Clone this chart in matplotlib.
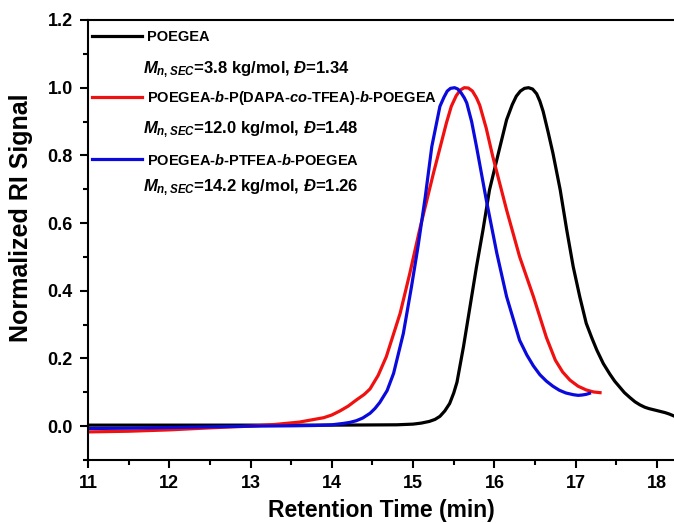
import numpy as np
import matplotlib
matplotlib.use("Agg")
import matplotlib.pyplot as plt
from matplotlib.ticker import MultipleLocator

plt.rcParams['font.family'] = ['Liberation Sans', 'DejaVu Sans']
plt.rcParams['font.weight'] = 'bold'
plt.rcParams['mathtext.fontset'] = 'custom'
plt.rcParams['mathtext.it'] = 'Liberation Sans:italic:bold'
plt.rcParams['mathtext.rm'] = 'Liberation Sans:bold'
plt.rcParams['mathtext.bf'] = 'Liberation Sans:bold'

# SEC traces (retention time in min, normalized RI)
t_poegea = [11.0, 12.0, 13.0, 14.0, 14.8, 15.0, 15.1, 15.2, 15.27, 15.33, 15.39, 15.45, 15.50, 15.54,
            15.62, 15.70, 15.78, 15.86, 15.94, 16.05, 16.15, 16.22, 16.27, 16.32, 16.37, 16.42,
            16.47, 16.52, 16.56, 16.60, 16.66, 16.72, 16.81, 16.89, 16.97, 17.05, 17.13, 17.20,
            17.26, 17.34, 17.42, 17.48, 17.54, 17.60, 17.67, 17.73, 17.79, 17.85, 17.90, 17.95,
            18.00, 18.05, 18.10, 18.15, 18.21]
ri_poegea = [0.003, 0.003, 0.003, 0.003, 0.004, 0.006, 0.009, 0.014, 0.020, 0.029, 0.045, 0.067, 0.098, 0.130,
             0.235, 0.353, 0.471, 0.580, 0.698, 0.807, 0.905, 0.950, 0.975, 0.990, 0.998, 1.0,
             0.996, 0.982, 0.960, 0.930, 0.870, 0.807, 0.698, 0.580, 0.471, 0.383, 0.304, 0.260,
             0.225, 0.185, 0.154, 0.133, 0.116, 0.099, 0.084, 0.072, 0.063, 0.056, 0.052, 0.049,
             0.046, 0.043, 0.040, 0.036, 0.030]

t_dapa = [11.0, 11.5, 12.0, 12.5, 13.0, 13.3, 13.6, 13.9, 14.0, 14.1, 14.2, 14.3, 14.4, 14.47, 14.57,
          14.67, 14.84, 14.96, 15.08, 15.25, 15.41, 15.47, 15.53, 15.58, 15.63, 15.68, 15.73, 15.78,
          15.82, 15.90, 15.98, 16.15, 16.31, 16.48, 16.64, 16.75, 16.84, 16.93, 17.03, 17.13, 17.22,
          17.30]
ri_dapa = [-0.017, -0.015, -0.011, -0.005, 0.0, 0.005, 0.012, 0.025, 0.033, 0.045, 0.059, 0.077, 0.094, 0.110, 0.150,
           0.205, 0.333, 0.452, 0.580, 0.747, 0.896, 0.945, 0.976, 0.993, 1.0, 0.999, 0.990, 0.970,
           0.948, 0.880, 0.797, 0.639, 0.501, 0.383, 0.262, 0.195, 0.160, 0.136, 0.118, 0.107, 0.101,
           0.099]

t_ptfea = [11.0, 11.5, 12.0, 12.5, 13.0, 13.5, 13.8, 14.0, 14.14, 14.22, 14.3, 14.38, 14.47, 14.53,
           14.59, 14.68, 14.76, 14.88, 14.98, 15.06, 15.15, 15.23, 15.33, 15.38, 15.42, 15.46, 15.51,
           15.55, 15.59, 15.63, 15.66, 15.72, 15.78, 15.90, 16.03, 16.15, 16.31, 16.40, 16.48, 16.56,
           16.64, 16.72, 16.80, 16.88, 16.97, 17.03, 17.08, 17.13, 17.17]
ri_ptfea = [-0.007, -0.006, -0.004, -0.002, 0.0, 0.001, 0.002, 0.004, 0.008, 0.011, 0.016, 0.024, 0.038, 0.052,
            0.070, 0.105, 0.156, 0.274, 0.412, 0.530, 0.678, 0.826, 0.945, 0.972, 0.990, 0.998, 1.0,
            0.996, 0.985, 0.970, 0.955, 0.900, 0.826, 0.669, 0.511, 0.383, 0.254, 0.210, 0.178, 0.152,
            0.133, 0.118, 0.106, 0.098, 0.093, 0.091, 0.092, 0.094, 0.097]

names = ['POEGEA',
         'POEGEA-$b$-P(DAPA-$co$-TFEA)-$b$-POEGEA',
         'POEGEA-$b$-PTFEA-$b$-POEGEA']
mn_text = ['$M_{n,SEC}$=3.8 kg/mol, $Đ$=1.34',
           '$M_{n,SEC}$=12.0 kg/mol, $Đ$=1.48',
           '$M_{n,SEC}$=14.2 kg/mol, $Đ$=1.26']
colors = ['black', '#f01010', '#0a0adc']

fig = plt.figure(figsize=(6.74, 5.23), dpi=100)
ax = fig.add_axes([88/674, 63/523, 586/674, 440/523])

ax.plot(t_poegea, ri_poegea, color=colors[0], lw=2.3, label=names[0])
ax.plot(t_dapa, ri_dapa, color=colors[1], lw=2.3, label=names[1])
ax.plot(t_ptfea, ri_ptfea, color=colors[2], lw=2.3, label=names[2])

ax.set_xlim(11, 18.21)
ax.set_ylim(-0.1, 1.2)
ax.xaxis.set_major_locator(MultipleLocator(1))
ax.xaxis.set_minor_locator(MultipleLocator(0.5))
ax.yaxis.set_major_locator(MultipleLocator(0.2))
ax.yaxis.set_minor_locator(MultipleLocator(0.1))
ax.tick_params(which='major', direction='out', length=6, width=1.5, labelsize=13, pad=5)
ax.tick_params(which='minor', direction='out', length=3.5, width=1.5)
for s in ['left', 'bottom', 'top']:
    ax.spines[s].set_linewidth(1.5)
ax.spines['right'].set_visible(False)

ax.set_xlabel('Retention Time (min)', fontsize=16.5, fontweight='bold', labelpad=5)
ax.set_ylabel('Normalized RI Signal', fontsize=18, fontweight='bold')
ax.yaxis.set_label_coords(-0.094, 0.55)

leg = ax.legend(loc='upper left', bbox_to_anchor=(0.007, 0.977), frameon=False,
                fontsize=10.5, handlelength=3.4, handletextpad=0.35,
                labelspacing=3.1, borderpad=0, borderaxespad=0)

for txt, yy in zip(mn_text, [0.886, 0.750, 0.620]):
    ax.text(0.094, yy, txt, transform=ax.transAxes, fontsize=12, va='center', ha='left')

fig.savefig('out.png', dpi=100)
